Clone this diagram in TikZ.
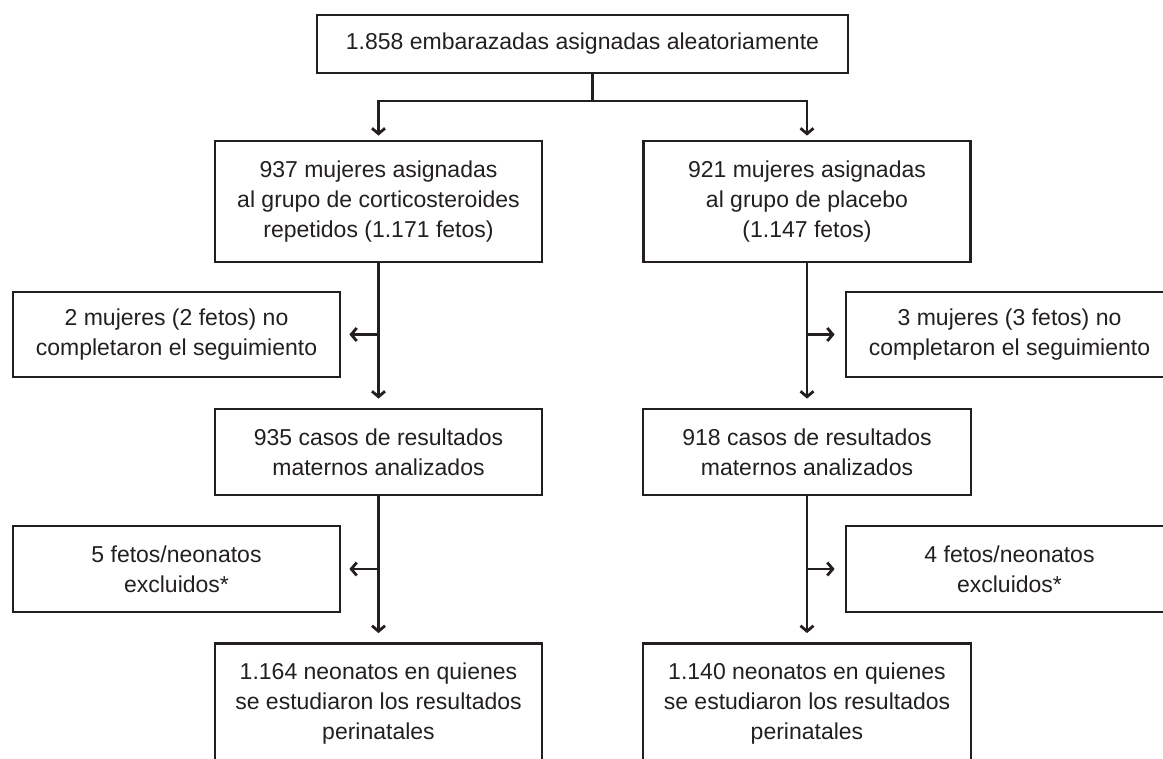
\documentclass[tikz,border=0pt]{standalone}
\usepackage{fontspec}
\setmainfont{Liberation Sans}
\usetikzlibrary{arrows.meta}
\definecolor{ink}{HTML}{231F20}
\tikzset{
  box/.style={draw=ink, text=ink, line width=2.8pt, align=center, inner sep=0pt,
    minimum width=327pt, font=\fontsize{23}{30}\selectfont},
  arr/.style={draw=ink, line width=2.8pt, -{Straight Barb[length=5.5pt,width=13pt]}},
}
\begin{document}
\begin{tikzpicture}[x=1pt,y=-1pt]
      \useasboundingbox (0,0) rectangle (1163,759);
      \node[box, minimum width=531pt, minimum height=58pt] (top) at (582.5,44) {1.858 embarazadas asignadas aleatoriamente};
      \node[box, minimum height=121pt] (g1) at (378.5,201.5) {937 mujeres asignadas\\al grupo de corticosteroides\\repetidos (1.171 fetos)};
      \node[box, minimum height=121pt] (g2) at (807,201.5) {921 mujeres asignadas\\al grupo de placebo\\(1.147 fetos)};
      \node[box, minimum height=85pt] (x1) at (176.5,334.5) {2 mujeres (2 fetos) no\\completaron el seguimiento};
      \node[box, minimum height=85pt] (x2) at (1009.5,334.5) {3 mujeres (3 fetos) no\\completaron el seguimiento};
      \node[box, minimum width=327pt, minimum height=86pt] (m1) at (378.5,452) {935 casos de resultados\\maternos analizados};
      \node[box, minimum width=328pt, minimum height=86pt] (m2) at (807,452) {918 casos de resultados\\maternos analizados};
      \node[box, minimum height=86pt] (y1) at (176.5,569) {5 fetos/neonatos\\excluidos*};
      \node[box, minimum height=86pt] (y2) at (1009.5,569) {4 fetos/neonatos\\excluidos*};
      \node[box, minimum height=121pt] (n1) at (378.5,704) {1.164 neonatos en quienes\\se estudiaron los resultados\\perinatales};
      \node[box, minimum width=328pt, minimum height=121pt] (n2) at (807,704) {1.140 neonatos en quienes\\se estudiaron los resultados\\perinatales};
      \coordinate (split) at (592.5,101);
      \draw [draw=ink, line width=2.8pt] (split |- top.south) -- (split);
      \draw [arr, shorten >=4pt] (split) -| (g1.north);
      \draw [arr, shorten >=4pt] (split) -| (g2.north);
      \draw [arr, shorten >=9pt] (g1) -- (m1);
      \draw [arr, shorten >=9pt] (g2) -- (m2);
      \draw [arr, shorten >=8pt] (g1.south |- x1) -- (x1.east);
      \draw [arr, shorten >=10pt] (g2.south |- x2) -- (x2.west);
      \draw [arr, shorten >=9pt] (m1) -- (n1);
      \draw [arr, shorten >=9pt] (m2) -- (n2);
      \draw [arr, shorten >=8pt] (m1.south |- y1) -- (y1.east);
      \draw [arr, shorten >=10pt] (m2.south |- y2) -- (y2.west);
    \end{tikzpicture}
\end{document}
